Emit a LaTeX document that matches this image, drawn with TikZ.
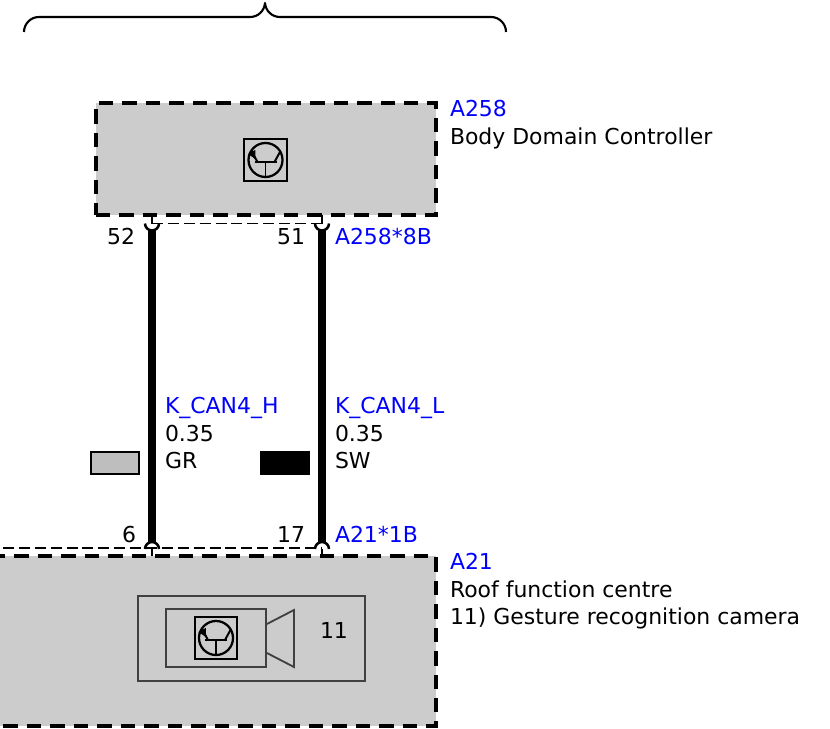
\documentclass[tikz,border=0pt]{standalone}
\usepackage{fontspec}
\setmainfont{DejaVu Sans}
\usepackage{tikz}
\usetikzlibrary{positioning}
\usetikzlibrary{arrows.meta}
\definecolor{boxgray}{HTML}{CCCCCC}
\definecolor{swatchgray}{HTML}{BEBEBE}
\definecolor{camgray}{HTML}{404040}
\tikzstyle{ctrl}=[rectangle,draw=black,fill=boxgray,line width=2.83pt,dash pattern=on 10.3pt off 6.4pt,inner sep=0pt,outer sep=0pt]
\tikzstyle{lab}=[inner sep=0pt,outer sep=0pt,anchor=base west,font=\fontsize{15.6}{18}\selectfont]
\tikzstyle{labr}=[lab,anchor=base east]
\tikzstyle{bluelab}=[lab,text=blue]
\tikzstyle{trans}=[rectangle,draw=black,line width=1.6pt,minimum size=1.06cm,inner sep=0pt]
\tikzstyle{cam}=[rectangle,draw=camgray,line width=1.3pt,inner sep=0pt]
\tikzstyle{wire}=[line width=5.67pt,shorten <=\wgap,shorten >=\wgap]
\tikzstyle{stem}=[line width=1.4pt]
\tikzstyle{cup}=[line width=1.8pt]
\tikzstyle{shield}=[line width=1.4pt,dash pattern=on 7.8pt off 3.5pt]
\tikzstyle{swatch}=[rectangle,draw=black,line width=1.4pt,minimum width=1.2cm,minimum height=0.56cm,inner sep=0pt]
\def\wgap{4pt}
\newcommand{\transistor}[1]{
	\draw[line width=1.6pt] (#1) circle (0.425cm);
	\draw[line width=1.5pt] (#1) ++(-11,2) -- ++(22,0);
	\draw[line width=1.4pt] (#1) ++(0,2) -- ++(0,14);
	\draw[line width=1.4pt] (#1) ++(9,2) -- ++(6,-11);
	\draw[line width=1.4pt] (#1) ++(-8,2) -- ++(-6,-11);
	\draw[line width=1.4pt,-{Latex[length=6.5pt,width=6.5pt]}] (#1) ++(-14,-8) -- ++(4.6,8);
}

\begin{document}
\begin{tikzpicture}[x=0.025cm,y=-0.025cm]

	\useasboundingbox (0,0) rectangle (830,729);
	\clip (0,0) rectangle (830,729);

	\def\z{0.6875}

	\coordinate (brl) at (24,32);
	\coordinate (brm) at (265,3);
	\coordinate (brr) at (506,32);
	\draw[line width=1.5pt,line join=round] (brl) to [out=90,in=180] (39,17) -- (250,17) to [out=0,in=-95] (brm) to [out=-85,in=180] (280,17) -- (491,17) to [out=0,in=90] (brr);

	\node [ctrl, minimum width=8.5cm, minimum height=2.8cm] (bdc) at (266,159) {};
	\node [ctrl, minimum width=11.4cm, minimum height=4.25cm] (rfc) at (208,641) {};

	\node [trans] (tbdc) at (265.5,160) {};
	\transistor{tbdc}

	\node [cam, minimum width=5.675cm, minimum height=2.125cm] (camo) at (251.5,638.5) {};
	\node [cam, minimum width=2.5cm, minimum height=1.45cm] (cami) at (216,638) {};
	\node [trans] (trfc) at (216,638) {};
	\transistor{trfc}
	\draw[draw=camgray,line width=1.3pt] (cami.east |- 0,624) -- (294,610) -- (294,667) -- (cami.east |- 0,653);
	\node [lab] (cnum) at (320,638) {11};

	\coordinate (pin52) at (152,223.5);
	\coordinate (pin51) at (322,223.5);
	\coordinate (pin6) at (152,549);
	\coordinate (pin17) at (322,549);
	\coordinate (shl) at (3,548);

	\draw[shield] (pin52) -- (pin51);
	\draw[shield] (shl) -- (pin17 |- shl);

	\draw[stem] (pin52) -- (pin52 |- bdc.south);
	\draw[stem] (pin51) -- (pin51 |- bdc.south);
	\draw[stem] (pin6) -- (pin6 |- rfc.north);
	\draw[stem] (pin17) -- (pin17 |- rfc.north);

	\draw[cup] (pin52) ++(180:1.75mm) arc (180:360:1.75mm);
	\draw[cup] (pin51) ++(180:1.75mm) arc (180:360:1.75mm);
	\draw[cup] (pin6) ++(180:1.75mm) arc (180:0:1.75mm);
	\draw[cup] (pin17) ++(180:1.75mm) arc (180:0:1.75mm);

	\draw[wire] (pin52) -- (pin6);
	\draw[wire] (pin51) -- (pin17);

	\node [bluelab] (ta258) at (450,116.5) {A258};
	\node [lab, below = \z cm of ta258.base west, anchor=base west] (tbody) {Body Domain Controller};

	\node [labr] (t52) at (135,244) {52};
	\node [labr] (t51) at (305,244) {51};
	\node [bluelab] (tconn) at (335,244) {A258*8B};

	\node [bluelab] (tcanh) at (165,413.5) {K\_CAN4\_H};
	\node [lab, below = \z cm of tcanh.base west, anchor=base west] (tcsh) {0.35};
	\node [lab, below = \z cm of tcsh.base west, anchor=base west] (tgr) {GR};
	\node [bluelab] (tcanl) at (335,413.5) {K\_CAN4\_L};
	\node [lab, below = \z cm of tcanl.base west, anchor=base west] (tcsl) {0.35};
	\node [lab, below = \z cm of tcsl.base west, anchor=base west] (tsw) {SW};

	\node [swatch, fill=swatchgray] (sgr) at (115,463) {};
	\node [swatch, fill=black] (ssw) at (285,463) {};

	\node [labr] (t6) at (136,542) {6};
	\node [labr] (t17) at (305,542) {17};
	\node [bluelab] (tconb) at (335,542) {A21*1B};

	\node [bluelab] (ta21) at (450,569.5) {A21};
	\node [lab, below = \z cm of ta21.base west, anchor=base west] (troof) {Roof function centre};
	\node [lab, below = \z cm of troof.base west, anchor=base west] (tges) {11) Gesture recognition camera};

\end{tikzpicture}
\end{document}
